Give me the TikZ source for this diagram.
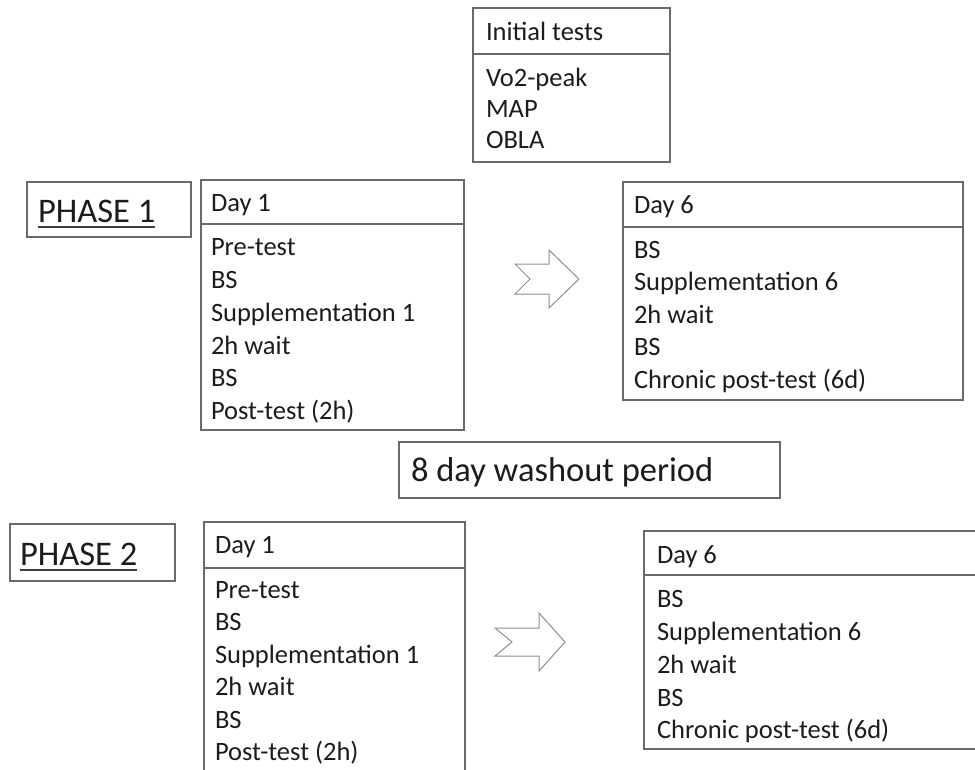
\documentclass[tikz,border=0pt]{standalone}
\usepackage{fontspec}
\setmainfont{Carlito}
\definecolor{edge}{HTML}{6A6A6A}
\definecolor{ink}{HTML}{1C1C1C}
\begin{document}
\begin{tikzpicture}[x=1pt,y=-1pt,
  box/.style={draw=edge, line width=1.1pt, anchor=north west, inner sep=0pt, outer sep=0pt},
  txt/.style={anchor=base west, inner sep=0pt, outer sep=0pt, text=ink, font=\fontsize{26.5}{32}\selectfont},
  big/.style={anchor=base west, inner sep=0pt, outer sep=0pt, text=ink, font=\fontsize{34.5}{40}\selectfont},
  rule/.style={draw=edge, line width=1.1pt},
  uline/.style={draw=ink!85, line width=1.8pt},
  blockarrow/.style={draw=edge!75, line width=1pt, fill=white, line join=miter}]
\useasboundingbox (0,0) rectangle (975,769);
\clip (0,0) rectangle (975,769);

% ---------- Initial tests ----------
\node[box, minimum width=197pt, minimum height=154pt] (it) at (473,8) {};
\draw[rule] (473,54) -- (670,54);
\node[txt] (it0) at (486,40) {Initial tests};
\node[txt] (it1) at (486,86) {Vo2-peak};
\node[txt] (it2) at (486,117) {MAP};
\node[txt] (it3) at (486,148) {OBLA};

% ---------- Phase 1 ----------
\node[box, minimum width=164pt, minimum height=55pt] (ph1) at (27,182) {};
\node[big] (ph1t) at (38,222) {PHASE 1};
\draw[uline] ([yshift=-5pt]ph1t.base west) -- ([yshift=-5pt]ph1t.base east);

\node[box, minimum width=263pt, minimum height=250pt] (a1) at (201,180) {};
\draw[rule] (201,224) -- (464,224);
\node[txt] (a1h) at (211,211) {Day 1};
\node[txt] (a11) at (211,255) {Pre-test};
\node[txt] (a12) at (211,288) {BS};
\node[txt] (a13) at (211,321) {Supplementation 1};
\node[txt] (a14) at (211,354) {2h wait};
\node[txt] (a15) at (211,386) {BS};
\node[txt] (a16) at (211,419) {Post-test (2h)};

\draw[blockarrow] (515,264) -- (549,264) -- (549,250) -- (579,279) -- (549,308) -- (549,294) -- (515,294) -- (530,279) -- cycle;

\node[box, minimum width=340pt, minimum height=218pt] (b1) at (623,182) {};
\draw[rule] (623,227) -- (963,227);
\node[txt] (b1h) at (634,213) {Day 6};
\node[txt] (b11) at (634,258) {BS};
\node[txt] (b12) at (634,290) {Supplementation 6};
\node[txt] (b13) at (634,323) {2h wait};
\node[txt] (b14) at (634,355) {BS};
\node[txt] (b15) at (634,388) {Chronic post-test (6d)};

% ---------- Washout ----------
\node[box, minimum width=381pt, minimum height=56pt] (wo) at (399,442) {};
\node[big] (wot) at (411,481) {8 day washout period};

% ---------- Phase 2 ----------
\node[box, minimum width=165pt, minimum height=57pt] (ph2) at (10,524) {};
\node[big] (ph2t) at (20,565) {PHASE 2};
\draw[uline] ([yshift=-5pt]ph2t.base west) -- ([yshift=-5pt]ph2t.base east);

\node[box, minimum width=261pt, minimum height=270pt] (a2) at (204,522) {};
\draw[rule] (204,568) -- (465,568);
\node[txt] (a2h) at (215,553) {Day 1};
\node[txt] (a21) at (215,598) {Pre-test};
\node[txt] (a22) at (215,630.5) {BS};
\node[txt] (a23) at (215,663) {Supplementation 1};
\node[txt] (a24) at (215,695.5) {2h wait};
\node[txt] (a25) at (215,728) {BS};
\node[txt] (a26) at (215,760) {Post-test (2h)};

\draw[blockarrow] (495,628) -- (539,628) -- (539,613) -- (565,642) -- (539,671) -- (539,656) -- (495,656) -- (512,642) -- cycle;

\node[box, minimum width=345pt, minimum height=218pt] (b2) at (644,531) {};
\draw[rule] (644,575) -- (989,575);
\node[txt] (b2h) at (657,563) {Day 6};
\node[txt] (b21) at (657,607) {BS};
\node[txt] (b22) at (657,640) {Supplementation 6};
\node[txt] (b23) at (657,673) {2h wait};
\node[txt] (b24) at (657,706) {BS};
\node[txt] (b25) at (657,738) {Chronic post-test (6d)};
\end{tikzpicture}
\end{document}
